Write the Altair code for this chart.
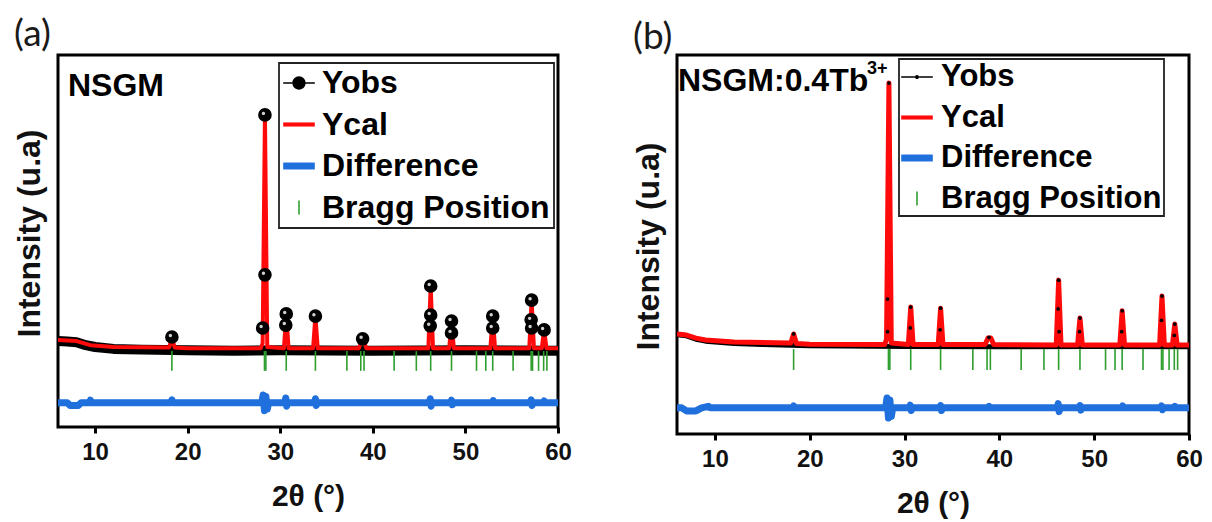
import altair as alt
import pandas as pd

X_TICKS = [10, 20, 30, 40, 50, 60]
SERIES = ["Yobs", "Ycal", "Difference", "Bragg Position"]

# Bragg reflection positions (2theta, degrees)
BRAGG_POS = [18.3, 28.3, 28.45, 30.65, 33.8, 37.2, 38.7, 39.05, 42.3, 44.7, 46.25,
             48.5, 51.2, 52.2, 52.95, 55.15, 57.1, 57.25, 57.9, 58.45, 58.8]

# ---------------- panel (a): NSGM ----------------
A_CAL_X = [6.0, 8.0, 9.5, 12.0, 18.0, 18.3, 18.6, 20.0, 27.9, 28.1, 28.35, 28.6, 30.4, 30.65,
           30.9, 33.55, 33.8, 34.05, 38.5, 38.9, 39.3, 46.0, 46.25, 46.5, 48.25, 48.5, 48.75,
           52.7, 52.95, 53.2, 56.9, 57.15, 57.4, 58.25, 58.5, 58.75, 60.0]
A_CAL_Y = [23.4, 23.1, 22.0, 21.5, 21.4, 23.9, 21.4, 21.2, 21.2, 22.5, 83.9, 21.5, 21.2, 30.4,
           21.2, 21.2, 29.8, 21.2, 21.2, 23.9, 21.2, 21.2, 37.9, 21.2, 21.2, 28.2, 21.2,
           21.2, 29.8, 21.2, 21.2, 34.1, 21.2, 21.2, 26.3, 21.2, 21.2]
A_OBS_X = [6.0, 7.0, 8.0, 9.0, 10.0, 12.0, 15.0, 20.0, 25.0, 30.0, 40.0, 50.0, 60.0]
A_OBS_Y = [23.1, 23.0, 22.8, 22.0, 21.5, 21.0, 20.8, 20.6, 20.5, 20.6, 20.5, 20.6, 20.5]
A_MK_X = [18.3, 28.1, 28.35, 28.35, 30.65, 30.6, 33.8, 38.9, 46.25, 46.25, 46.2, 48.5, 48.5,
          52.95, 52.95, 57.15, 57.1, 57.15, 58.5]
A_MK_Y = [24.2, 26.6, 83.9, 40.9, 30.4, 27.4, 29.8, 23.7, 37.9, 30.1, 27.2, 28.5, 25.3,
          29.8, 26.6, 34.1, 28.8, 26.6, 26.1]
A_DIF_X = [6.0, 7.0, 7.3, 8.2, 8.5, 9.4, 9.5, 9.6, 18.2, 18.3, 18.4, 28.0, 28.15, 28.3, 28.45,
           28.6, 28.75, 30.5, 30.6, 30.7, 30.8, 33.7, 33.8, 33.9, 34.0, 46.1, 46.2, 46.3, 46.4,
           48.4, 48.5, 48.6, 48.7, 52.9, 53.0, 53.1, 57.0, 57.1, 57.2, 57.3, 58.4, 58.5, 58.6, 60.0]
A_DIF_Y = [6.5, 6.5, 5.8, 5.8, 6.5, 6.5, 7.2, 6.5, 6.5, 7.3, 6.5, 6.5, 8.6, 4.4, 8.2,
           4.8, 6.5, 6.5, 7.8, 5.6, 6.5, 6.5, 7.6, 5.8, 6.5, 6.5, 7.6, 5.6, 6.5,
           6.5, 7.2, 6.0, 6.5, 6.5, 7.1, 6.5, 6.5, 7.3, 5.8, 6.5, 6.5, 7.0, 6.5, 6.5]

# ---------------- panel (b): NSGM:0.4Tb3+ ----------------
B_CAL_X = [6.0, 7.0, 8.0, 9.0, 12.0, 18.0, 18.3, 18.6, 20.0, 27.9, 28.1, 28.35, 28.6, 30.4,
           30.65, 30.9, 33.55, 33.8, 34.05, 38.5, 38.8, 39.1, 39.4, 46.0, 46.25, 46.5, 48.25,
           48.5, 48.75, 52.7, 52.95, 53.2, 56.9, 57.15, 57.4, 58.25, 58.5, 58.75, 60.0]
B_CAL_Y = [26.4, 26.1, 25.3, 24.8, 24.3, 24.0, 26.4, 23.9, 23.7, 23.6, 25.0, 92.6, 24.0, 23.6,
           33.5, 23.6, 23.6, 33.2, 23.6, 23.6, 25.3, 25.3, 23.6, 23.5, 40.6, 23.5, 23.5,
           30.6, 23.5, 23.5, 32.5, 23.5, 23.5, 36.4, 23.5, 23.5, 29.0, 23.5, 23.5]
B_OBS_X = [6.0, 7.0, 8.0, 9.0, 12.0, 15.0, 20.0, 30.0, 40.0, 50.0, 60.0]
B_OBS_Y = [26.2, 25.9, 25.0, 24.5, 23.9, 23.6, 23.3, 23.1, 23.0, 23.1, 23.0]
B_MK_X = [18.3, 28.2, 28.2, 28.35, 30.6, 30.65, 33.75, 33.8, 38.9, 46.2, 46.25, 46.3, 48.45,
          48.5, 52.9, 52.95, 57.1, 57.15, 58.45, 58.5]
B_MK_Y = [26.4, 27.0, 35.6, 92.6, 28.0, 33.5, 27.5, 33.2, 25.5, 33.0, 40.6, 27.0, 27.0,
          30.6, 27.0, 32.5, 30.0, 36.4, 26.0, 29.0]
B_DIF_X = [6.0, 6.5, 7.0, 8.0, 8.6, 9.3, 9.5, 18.2, 18.3, 18.4, 28.0, 28.15, 28.3, 28.45, 28.6,
           28.75, 30.5, 30.6, 30.7, 30.8, 33.7, 33.8, 33.9, 34.0, 38.8, 38.9, 39.0, 46.1, 46.2,
           46.3, 46.4, 48.4, 48.5, 48.6, 48.7, 52.9, 53.0, 53.1, 57.0, 57.1, 57.2, 57.3, 58.4,
           58.5, 58.6, 60.0]
B_DIF_Y = [6.9, 6.9, 6.1, 6.1, 6.9, 7.3, 6.9, 6.9, 7.4, 6.9, 6.9, 9.5, 4.2, 9.0, 4.6,
           6.9, 6.9, 7.6, 6.2, 6.9, 6.9, 7.5, 6.2, 6.9, 6.9, 7.3, 6.9, 6.9, 8.0,
           5.9, 6.9, 6.9, 7.5, 6.3, 6.9, 6.9, 7.4, 6.9, 6.9, 7.4, 6.4, 6.9, 6.9,
           7.3, 6.9, 6.9]

RED = "#ff0a0a"
BLUE = "#1f6fdc"
GREEN = "#2e9e2e"
FONT = "Liberation Sans"

YCAL_PATH = "M-1,-0.13L1,-0.13L1,0.13L-1,0.13Z"
DIFF_PATH = "M-1,-0.22L1,-0.22L1,0.22L-1,0.22Z"
BRAGG_PATH = "M-0.05,-0.45L0.05,-0.45L0.05,0.45L-0.05,0.45Z"


def yobs_path(r):
    return ("M-1,-0.05L%s,-0.05L%s,0.05L-1,0.05Z " % (-r, -r) +
            "M%s,-0.05L1,-0.05L1,0.05L%s,0.05Z " % (r, r) +
            "M%s,0A%s,%s 0 1,1 %s,0A%s,%s 0 1,1 %s,0Z" % (-r, r, r, r, r, r, -r))


def panel(tag, cal_x, cal_y, obs_x, obs_y, mk_x, mk_y, dif_x, dif_y, width, height,
          cal_w, obs_w, mk_size, highlight, bragg_top, bragg_bot, leg_x, leg_y, leg_pad,
          leg_font, leg_offset, obs_r, label, label_x, label_y, sup, title_offset, ytitle_y):
    X = alt.X("x:Q", scale=alt.Scale(domain=[6, 60], nice=False, zero=False),
              axis=alt.Axis(values=X_TICKS, title="2θ (°)", labelFlush=False))
    Y = alt.Y("y:Q", scale=alt.Scale(domain=[0, 100], nice=False, zero=False),
              axis=alt.Axis(title="Intensity (u.a)", labels=False, ticks=False,
                            titleY=ytitle_y))

    obs = pd.DataFrame({"x": obs_x, "y": obs_y})
    cal = pd.DataFrame({"x": cal_x, "y": cal_y})
    dif = pd.DataFrame({"x": dif_x, "y": dif_y})
    mk = pd.DataFrame({"x": mk_x, "y": mk_y})
    bragg = pd.DataFrame({"x": BRAGG_POS})

    layers = [
        alt.Chart(obs).mark_line(color="black", strokeWidth=obs_w, strokeJoin="round",
                                 clip=True).encode(x=X, y=Y),
        alt.Chart(bragg).mark_rule(color=GREEN, strokeWidth=1.6).encode(
            x=X, y=alt.datum(bragg_top), y2=alt.datum(bragg_bot)),
        alt.Chart(cal).mark_line(color=RED, strokeWidth=cal_w, strokeJoin="round",
                                 clip=True).encode(x=X, y=Y),
        alt.Chart(dif).mark_line(color=BLUE, strokeWidth=7, strokeJoin="round",
                                 clip=True).encode(x=X, y=Y),
        alt.Chart(mk).mark_point(filled=True, color="black", size=mk_size, opacity=1,
                                 clip=True).encode(x=X, y=Y),
    ]
    if highlight:
        layers.append(alt.Chart(mk).mark_point(filled=True, color="#cfcfcf", size=12, opacity=1,
                                               xOffset=-1.5, yOffset=-1.5).encode(x=X, y=Y))

    leg = alt.Legend(title=None, orient="none", legendX=leg_x, legendY=leg_y,
                     labelFont=FONT, labelFontWeight="bold", labelFontSize=leg_font,
                     labelColor="black", labelLimit=500, symbolSize=1000,
                     symbolStrokeWidth=0, rowPadding=9.5, padding=leg_pad,
                     labelOffset=leg_offset, strokeColor="#222222", fillColor="white")
    legend_df = pd.DataFrame({"series": SERIES})
    layers.append(
        alt.Chart(legend_df).mark_point(filled=True, size=1000, opacity=1).encode(
            color=alt.Color("series:N", scale=alt.Scale(domain=SERIES,
                                                        range=["black", RED, BLUE, GREEN]),
                            legend=leg),
            shape=alt.Shape("series:N", scale=alt.Scale(
                domain=SERIES, range=[yobs_path(obs_r), YCAL_PATH, DIFF_PATH, BRAGG_PATH]),
                legend=leg),
        ).transform_filter("false")
    )

    lab = pd.DataFrame({"t": [label]})
    layers.append(alt.Chart(lab).mark_text(font=FONT, fontWeight="bold", fontSize=32,
                                           color="black", align="left",
                                           baseline="alphabetic").encode(
        x=alt.value(label_x), y=alt.value(label_y), text="t:N"))
    if sup:
        sp = pd.DataFrame({"t": [sup]})
        layers.append(alt.Chart(sp).mark_text(font=FONT, fontWeight="bold", fontSize=18,
                                              color="black", align="left",
                                              baseline="alphabetic").encode(
            x=alt.value(label_x + 189), y=alt.value(label_y - 17), text="t:N"))

    return alt.layer(*layers).properties(
        width=width, height=height,
        title=alt.TitleParams(text=tag, anchor="start", font="Lato", fontSize=37,
                              fontWeight="normal", color="#1a1a1a", offset=title_offset,
                              dx=1),
    )


pa = panel("(a)", A_CAL_X, A_CAL_Y, A_OBS_X, A_OBS_Y, A_MK_X, A_MK_Y, A_DIF_X, A_DIF_Y,
           500, 372, 4, 10, 185, True, 20.4, 15.1, 221, 8, 4, 32, 7, 0.42,
           "NSGM", 10, 41, "", 1, 178)
pb = panel("(b)", B_CAL_X, B_CAL_Y, B_OBS_X, B_OBS_Y, B_MK_X, B_MK_Y, B_DIF_X, B_DIF_Y,
           512, 379, 5, 5, 14, False, 22.4, 16.9, 222, 4, 2, 31, 8, 0.13,
           "NSGM:0.4Tb", 1, 36, "3+", -2, 191)

chart = alt.hconcat(pa, pb, spacing=57).resolve_scale(
    color="independent", shape="independent"
).resolve_legend(color="independent", shape="independent").properties(
    padding={"left": 3, "top": 6, "right": 0, "bottom": 0}
).configure_view(stroke="black", strokeWidth=3).configure_axisX(
    labelFont=FONT, labelFontWeight="bold", labelFontSize=24, labelColor="#111111",
    tickColor="black", tickWidth=3, tickSize=6, labelPadding=7, domain=False, grid=False,
    titleFont=FONT, titleFontWeight="bold", titleFontSize=30, titleColor="#111111",
    titlePadding=17
).configure_axisY(
    domain=False, grid=False, titleFont=FONT, titleFontWeight="bold", titleFontSize=32,
    titleColor="#111111", titlePadding=12
).configure_legend(strokeWidth=1.8)

chart.save("out.html", embed_options={"renderer": "svg", "actions": False})
